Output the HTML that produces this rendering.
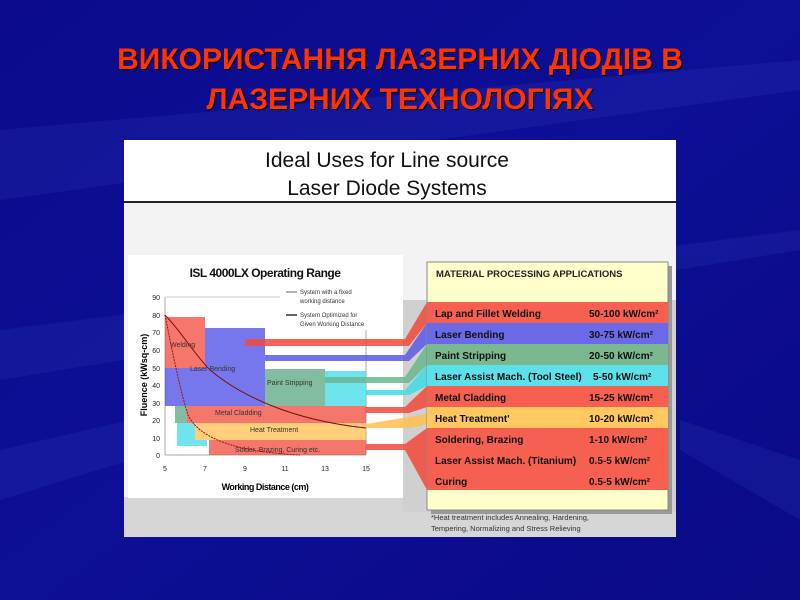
<!DOCTYPE html>
<html><head><meta charset="utf-8"><style>
body{margin:0;width:800px;height:600px;overflow:hidden;font-family:"Liberation Sans",sans-serif;background:#0a0a8e;position:relative}
.title{position:absolute;top:40px;left:0;width:800px;text-align:center;color:#ff3300;font-weight:bold;font-size:30px;line-height:40px;text-shadow:1px 1px 1px #000}
</style></head><body>
<svg width="800" height="600" style="position:absolute;left:0;top:0">
<defs><linearGradient id="bg" x1="0" y1="0" x2="1" y2="1">
<stop offset="0" stop-color="#0b0b8c"/><stop offset="0.5" stop-color="#0d0f96"/><stop offset="1" stop-color="#0a0a84"/></linearGradient></defs>
<rect width="800" height="600" fill="url(#bg)"/>
<g fill="#3a46c4" opacity="0.18"><polygon points="0,130 800,60 800,90 0,200"/><polygon points="0,330 800,230 800,250 0,380"/><polygon points="680,420 800,460 800,520 680,450"/><polygon points="0,450 130,420 130,460 0,500"/></g>
</svg>
<div class="title">ВИКОРИСТАННЯ ЛАЗЕРНИХ ДІОДІВ В<br>ЛАЗЕРНИХ ТЕХНОЛОГІЯХ</div>
<svg width="800" height="600" style="position:absolute;left:0;top:0" font-family="Liberation Sans, sans-serif">
<rect x="124" y="140" width="552" height="397" fill="#f3f3f3"/>
<rect x="124" y="140" width="552" height="62" fill="#fff"/>
<rect x="124" y="201" width="552" height="2" fill="#222"/>
<text x="387" y="167" font-size="21" text-anchor="middle" fill="#111">Ideal Uses for Line source</text>
<text x="387" y="195" font-size="21" text-anchor="middle" fill="#111">Laser Diode Systems</text>
<rect x="124" y="497" width="552" height="40" fill="#d6d6d6"/>
<rect x="128" y="255" width="275" height="243" fill="#fff"/>
<rect x="403" y="300" width="273" height="212" fill="#d0d0d0"/>
<text x="265" y="277" font-size="12" font-weight="bold" text-anchor="middle" fill="#111" letter-spacing="-0.5">ISL 4000LX Operating Range</text>
<line x1="165" y1="297" x2="165" y2="455" stroke="#aaa"/>
<line x1="165" y1="455" x2="366" y2="455" stroke="#aaa"/>
<line x1="165" y1="297" x2="280" y2="297" stroke="#ccc"/>
<line x1="366" y1="330" x2="366" y2="455" stroke="#aaa"/>
<g font-size="7" fill="#222" text-anchor="end">
<text x="160" y="300">90</text><text x="160" y="318">80</text><text x="160" y="335">70</text><text x="160" y="353">60</text><text x="160" y="371">50</text><text x="160" y="388">40</text><text x="160" y="406">30</text><text x="160" y="423">20</text><text x="160" y="441">10</text><text x="160" y="458">0</text></g>
<g font-size="7" fill="#222" text-anchor="middle">
<text x="165" y="471">5</text><text x="205" y="471">7</text><text x="245" y="471">9</text><text x="285" y="471">11</text><text x="325" y="471">13</text><text x="366" y="471">15</text></g>
<text x="265" y="490" font-size="9" font-weight="bold" text-anchor="middle" letter-spacing="-0.5">Working Distance (cm)</text>
<text transform="translate(147,375) rotate(-90)" font-size="9" font-weight="bold" text-anchor="middle">Fluence (kWsq-cm)</text>
<g font-size="6" fill="#333"><line x1="286" y1="292" x2="297" y2="292" stroke="#666"/><text x="300" y="294">System with a fixed</text><text x="300" y="303">working distance</text>
<line x1="286" y1="315" x2="297" y2="315" stroke="#333" stroke-width="1.5"/><text x="300" y="317">System Optimized for</text><text x="300" y="326">Given Working Distance</text></g>
<g opacity="0.75">
<rect x="165" y="317" width="40" height="51" fill="#f24a3a"/>
<rect x="205" y="328" width="60" height="78" fill="#4a4ae8"/>
<rect x="165" y="368" width="40" height="38" fill="#4a4ae8"/>
<rect x="265" y="369" width="60" height="52" fill="#5aa882"/>
<rect x="325" y="371" width="41" height="35" fill="#40dce8"/>
<rect x="175" y="406" width="12" height="17" fill="#5aa882"/>
<rect x="177" y="423" width="30" height="23" fill="#40dce8"/>
<rect x="187" y="406" width="179" height="17" fill="#f24a3a"/>
<rect x="195" y="423" width="171" height="17" fill="#ffbf50"/>
<rect x="209" y="440" width="157" height="15" fill="#f24a3a"/>
</g>
<g font-size="7" fill="#333"><text x="170" y="347">Welding</text><text x="190" y="371">Laser Bending</text><text x="267" y="385">Paint Stripping</text><text x="215" y="415">Metal Cladding</text><text x="250" y="432">Heat Treatment</text><text x="235" y="452">Solder, Brazing, Curing etc.</text></g>
<path d="M165,315 C180,330 195,355 210,370 C240,395 290,420 366,428" fill="none" stroke="#7a1010" stroke-width="1"/>
<path d="M165,315 C172,350 180,390 188,415 C200,440 240,452 300,455" fill="none" stroke="#a01010" stroke-width="1" stroke-dasharray="2,1"/>
<g opacity="0.85">
<polygon points="245,339 405,339 427,302 427,323 409,346 245,346" fill="#f24a3a"/>
<polygon points="265,355 405,355 427,323 427,344 409,361 265,361" fill="#5a5ae8"/>
<polygon points="325,377 405,377 427,344 427,365 409,383 325,383" fill="#6ab890"/>
<polygon points="366,390 405,390 427,365 427,386 409,395 366,395" fill="#40dce8"/>
<polygon points="366,407 405,407 427,386 427,407 409,413 366,413" fill="#f24a3a"/>
<polygon points="366,424 427,414 427,424 410,428 366,428" fill="#ffbf50"/>
<polygon points="366,444 405,444 427,428 427,490 405,450 366,450" fill="#f24a3a"/>
</g>
<rect x="431" y="266" width="241" height="248" fill="#999"/>
<rect x="427" y="262" width="241" height="248" fill="#ffffcc" stroke="#888"/>
<text x="436" y="277" font-size="9.5" font-weight="bold" fill="#222">MATERIAL PROCESSING APPLICATIONS</text>
<rect x="427" y="302" width="241" height="21" fill="#f66050"/>
<rect x="427" y="323" width="241" height="21" fill="#6a6ae8"/>
<rect x="427" y="344" width="241" height="21" fill="#7ab890"/>
<rect x="427" y="365" width="241" height="21" fill="#5ce0ea"/>
<rect x="427" y="386" width="241" height="21" fill="#f66050"/>
<rect x="427" y="407" width="241" height="21" fill="#ffc860"/>
<rect x="427" y="428" width="241" height="62" fill="#f66050"/>
<g font-size="10" font-weight="bold" fill="#111">
<text x="435" y="317">Lap and Fillet  Welding</text><text x="589" y="317">50-100 kW/cm²</text>
<text x="435" y="338">Laser Bending</text><text x="589" y="338">30-75 kW/cm²</text>
<text x="435" y="359">Paint Stripping</text><text x="589" y="359">20-50 kW/cm²</text>
<text x="435" y="380">Laser Assist Mach. (Tool Steel)</text><text x="593" y="380">5-50 kW/cm²</text>
<text x="435" y="401">Metal Cladding</text><text x="589" y="401">15-25 kW/cm²</text>
<text x="435" y="422">Heat Treatment'</text><text x="589" y="422">10-20 kW/cm²</text>
<text x="435" y="443">Soldering, Brazing</text><text x="589" y="443">1-10 kW/cm²</text>
<text x="435" y="464">Laser Assist Mach. (Titanium)</text><text x="589" y="464">0.5-5 kW/cm²</text>
<text x="435" y="485">Curing</text><text x="589" y="485">0.5-5 kW/cm²</text></g>
<g font-size="7.5" fill="#333"><text x="431" y="520">*Heat treatment includes Annealing, Hardening,</text><text x="431" y="531">Tempering, Normalizing and Stress Relieving</text></g>
</svg>
</body></html>
